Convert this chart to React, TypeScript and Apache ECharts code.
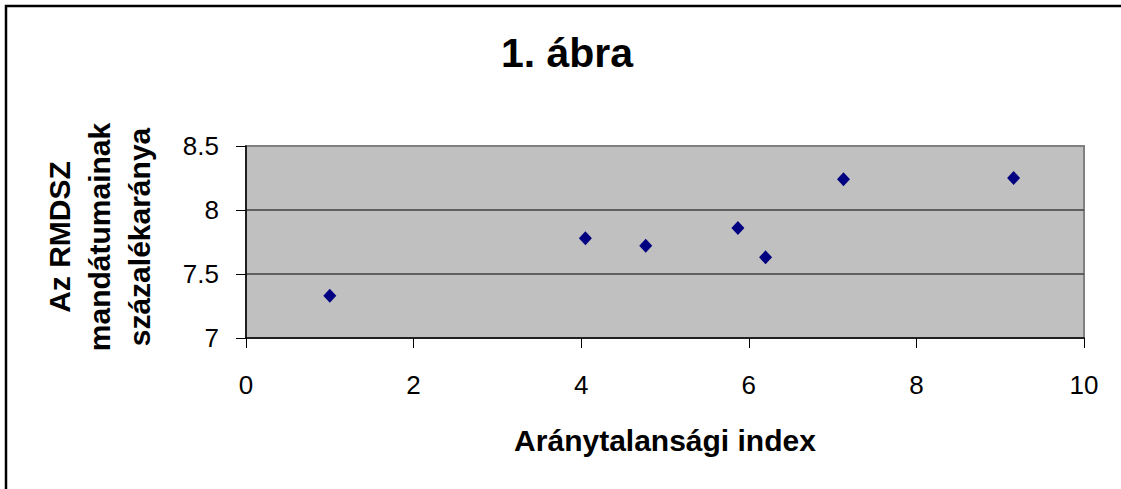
import React, { useEffect, useRef } from "react";
import * as echarts from "echarts";

const titleText = "1. ábra";
const xAxisTitle = "Aránytalansági index";
const yAxisTitleLines = ["Az RMDSZ", "mandátumainak", "százalékaránya"];

const xValues = [1.0, 4.05, 4.77, 5.87, 6.2, 7.13, 9.16];
const yValues = [7.33, 7.78, 7.72, 7.86, 7.63, 8.24, 8.25];

const xMin = 0;
const xMax = 10;
const xStep = 2;
const yMin = 7;
const yMax = 8.5;
const yStep = 0.5;

const FONT = "'Liberation Sans', Arial, Helvetica, sans-serif";

export default function App() {
  const ref = useRef<HTMLDivElement>(null);

  useEffect(() => {
    if (!ref.current) return;
    const chart = echarts.init(ref.current, undefined, { renderer: "svg" });
    const points = xValues.map((x, i) => [x, yValues[i]]);

    chart.setOption({
      animation: false,
      backgroundColor: "#ffffff",
      textStyle: { fontFamily: FONT },
      grid: {
        left: 246,
        right: 37,
        top: 146,
        bottom: 151,
        show: true,
        backgroundColor: "#C0C0C0",
        borderColor: "#808080",
        borderWidth: 2,
      },
      graphic: [
        {
          type: "rect",
          shape: { x: 6, y: 6, width: 1300, height: 700 },
          style: { fill: "none", stroke: "#000000", lineWidth: 2.5 },
          silent: true,
        },
        {
          type: "text",
          x: 567,
          y: 53,
          style: {
            text: titleText,
            fontFamily: FONT,
            fontSize: 41,
            fontWeight: "bold",
            fill: "#000000",
            textAlign: "center",
            textVerticalAlign: "middle",
          },
        },
        {
          type: "text",
          x: 99,
          y: 237,
          rotation: Math.PI / 2,
          style: {
            text: yAxisTitleLines.join("\n"),
            fontFamily: FONT,
            fontSize: 30,
            fontWeight: "bold",
            lineHeight: 40,
            fill: "#000000",
            textAlign: "center",
            textVerticalAlign: "middle",
          },
        },
      ],
      xAxis: {
        type: "value",
        min: xMin,
        max: xMax,
        interval: xStep,
        name: xAxisTitle,
        nameLocation: "middle",
        nameGap: 87,
        nameTextStyle: {
          fontFamily: FONT,
          fontSize: 30,
          fontWeight: "bold",
          color: "#000000",
        },
        axisLine: { show: true, onZero: false, lineStyle: { color: "#000000", width: 1.5 } },
        axisTick: { show: true, inside: false, length: 10, lineStyle: { color: "#000000", width: 1 } },
        axisLabel: {
          margin: 34,
          fontFamily: FONT,
          fontSize: 26,
          color: "#000000",
        },
        splitLine: { show: false },
      },
      yAxis: {
        type: "value",
        min: yMin,
        max: yMax,
        interval: yStep,
        axisLine: { show: true, onZero: false, lineStyle: { color: "#000000", width: 1.5 } },
        axisTick: { show: true, inside: false, length: 10, lineStyle: { color: "#000000", width: 1 } },
        axisLabel: {
          margin: 27,
          fontFamily: FONT,
          fontSize: 26,
          color: "#000000",
        },
        splitLine: {
          show: true,
          showMinLine: false,
          showMaxLine: false,
          lineStyle: { color: "#404040", width: 1.5 },
        },
      },
      series: [
        {
          type: "scatter",
          data: points,
          symbol: "diamond",
          symbolSize: [13, 14],
          itemStyle: { color: "#000080", opacity: 1 },
        },
      ],
    });

    return () => chart.dispose();
  }, []);

  return (
    <div
      ref={ref}
      style={{ position: "fixed", left: 0, top: 0, width: "1121px", height: "489px" }}
    />
  );
}
